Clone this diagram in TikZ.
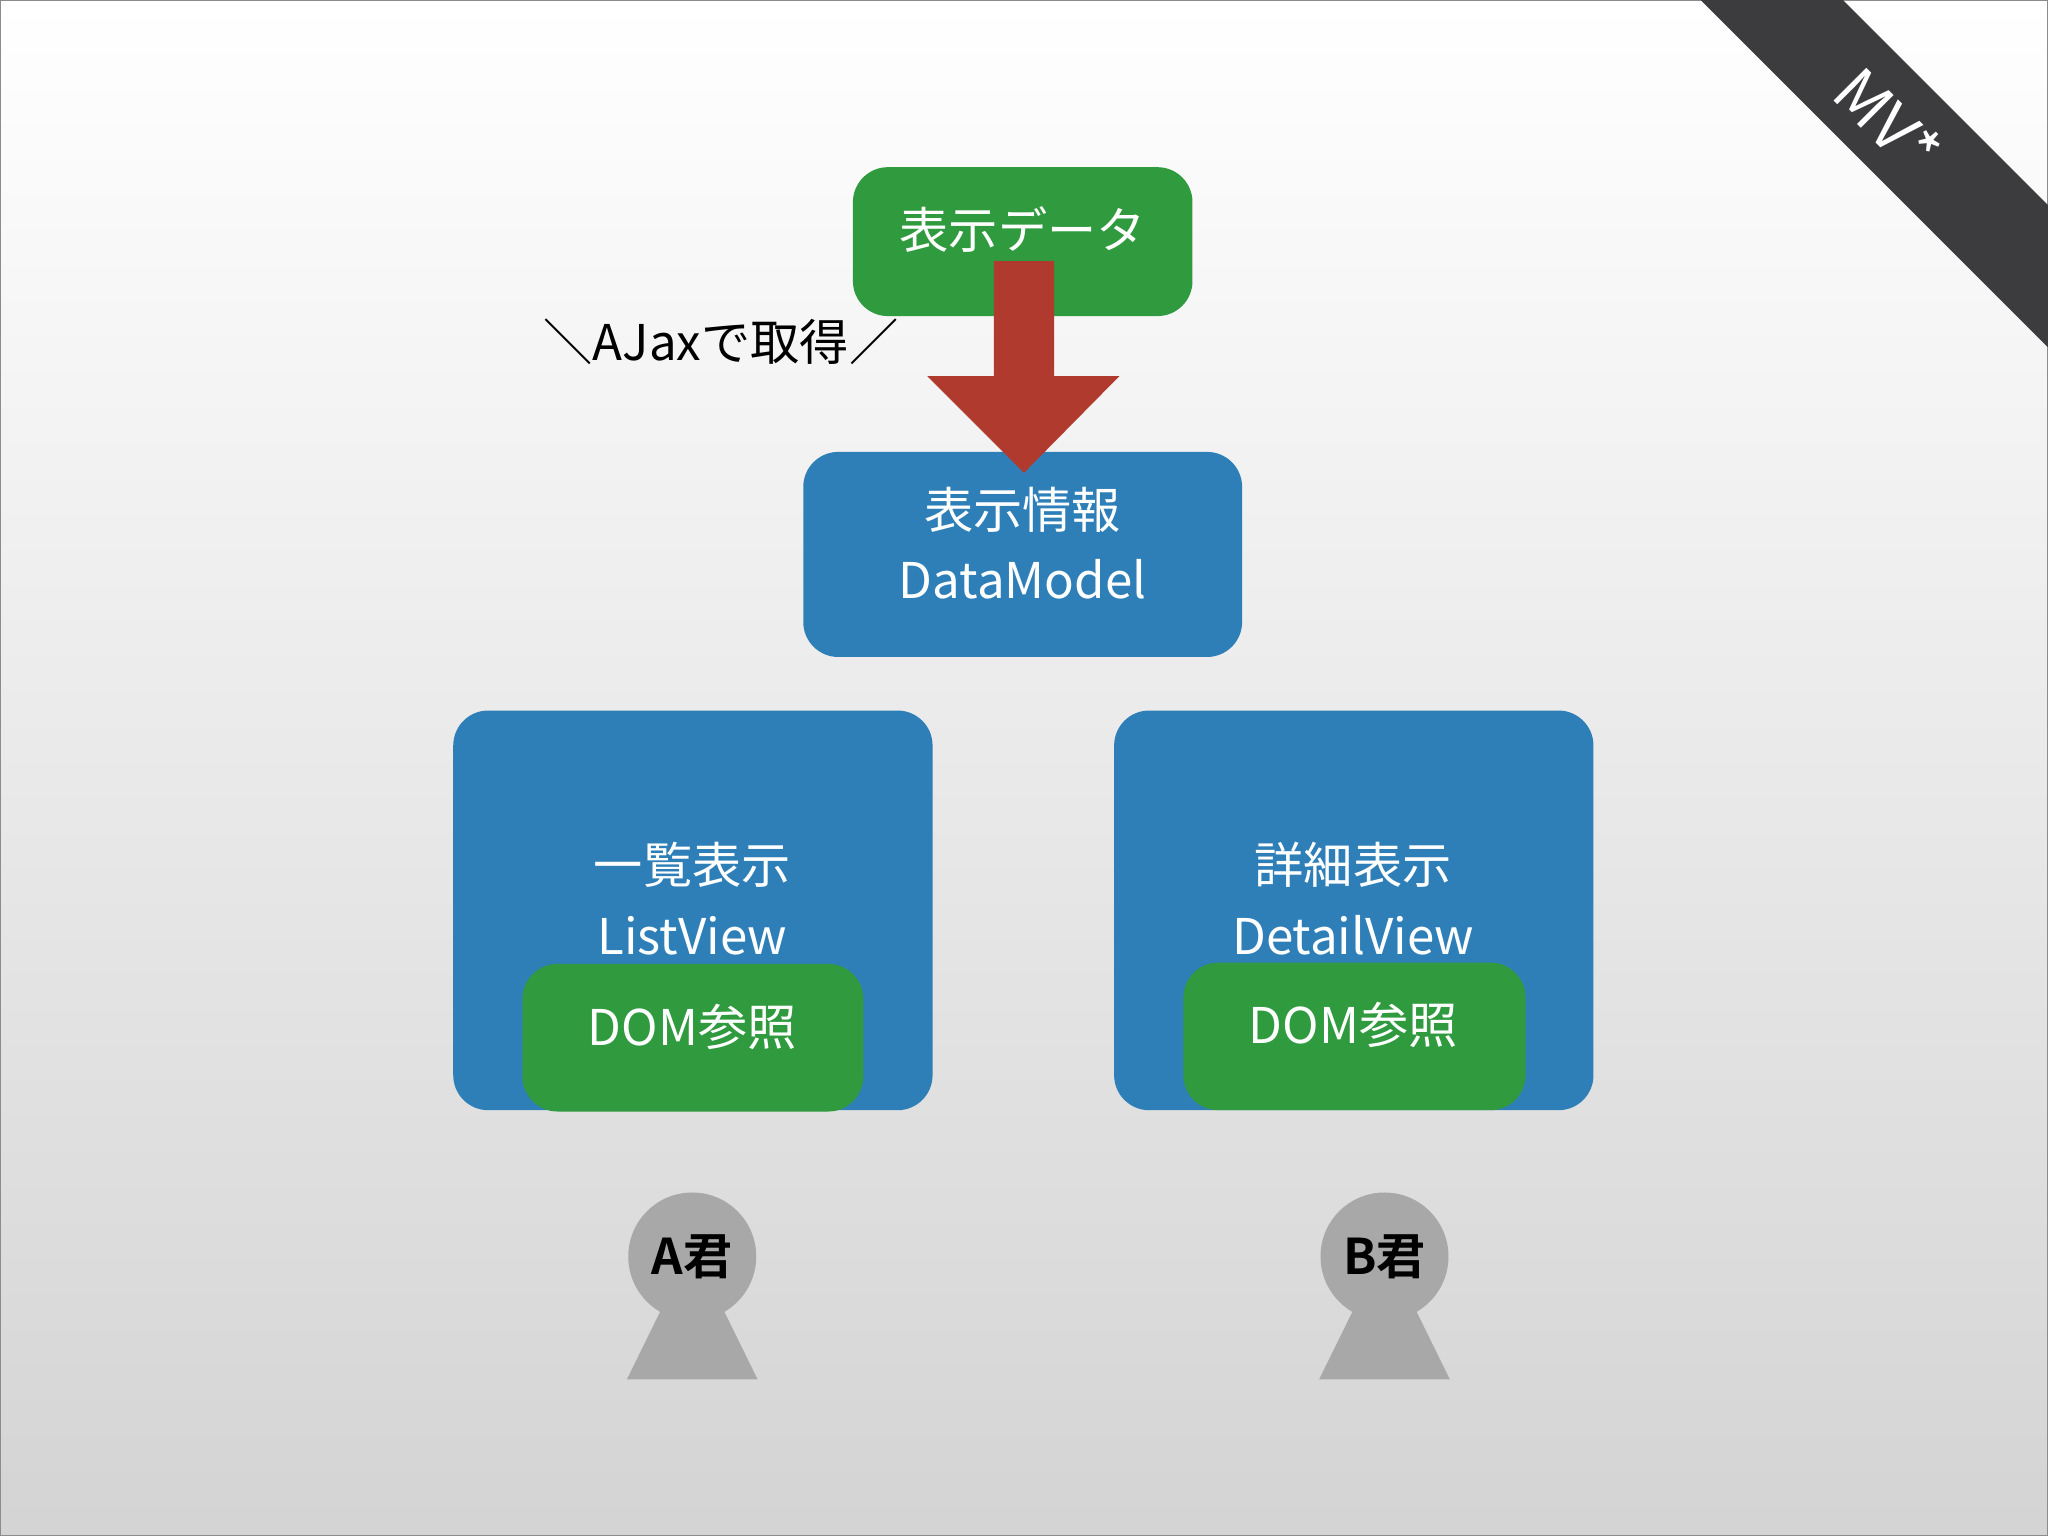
\documentclass[tikz,border=0pt]{standalone}
\usepackage{fontspec}
\setmainfont{Noto Sans CJK JP}
\newfontfamily\jpb{Noto Sans CJK JP}[BoldFont=* Bold]
\definecolor{gbox}{HTML}{2F9A3E}
\definecolor{bbox}{HTML}{2E7FB8}
\definecolor{rarr}{HTML}{B03A2E}
\definecolor{pers}{HTML}{A8A8A8}
\definecolor{rib}{HTML}{3C3C3E}
\begin{document}
\begin{tikzpicture}[x=0.01306cm,y=-0.01306cm,
  lbl/.style={text=white,font=\fontsize{14}{17}\selectfont,align=center},
  bx/.style={rounded corners=0.35cm}]
\useasboundingbox (0,0) rectangle (1568,1176);
\shade[top color=white,bottom color=black!17] (0,0) rectangle (1568,1176);
\draw[black!45,line width=0.6pt] (0,0) rectangle (1568,1176);
% ribbon
\fill[rib] (1302,0) -- (1411,0) -- (1568,157) -- (1568,266) -- cycle;
\node[text=white,rotate=-45,font=\fontsize{18}{20}\selectfont] (mv) at (1446,92) {MV*};
% top data
\fill[gbox,bx] (653,128) rectangle (913,242);
\node[lbl] (data) at (783,176) {表示データ};
\node[font=\fontsize{14}{17}\selectfont] (ajax) at (552,262) {＼AJaxで取得／};
% datamodel
\fill[bbox,bx] (615,346) rectangle (951,503);
\node[lbl] (dm) at (783,416) {表示情報\\[3pt]DataModel};
% arrow
\fill[rarr] (761,200) -- (807,200) -- (807,288) -- (857,288) -- (784,362) -- (710,288) -- (761,288) -- cycle;
% list view
\fill[bbox,bx] (347,544) rectangle (714,850);
\node[lbl] (lv) at (530,688) {一覧表示\\[3pt]ListView};
\fill[gbox,bx] (400,738) rectangle (661,851);
\node[lbl] (ld) at (530,786) {DOM参照};
% detail view
\fill[bbox,bx] (853,544) rectangle (1220,850);
\node[lbl] (dv) at (1036,688) {詳細表示\\[3pt]DetailView};
\fill[gbox,bx] (906,737) rectangle (1168,850);
\node[lbl] (dd) at (1036,785) {DOM参照};
% persons
\foreach \x/\n in {530/A,1060/B}{
  \fill[pers] (\x-20,995) -- (\x+20,995) -- (\x+50,1056) -- (\x-50,1056) -- cycle;
  \fill[pers] (\x,962) circle (49);
  \node[font=\jpb\bfseries\fontsize{14}{17}\selectfont] (p\n) at (\x,962) {\n 君};
}
\end{tikzpicture}
\end{document}
